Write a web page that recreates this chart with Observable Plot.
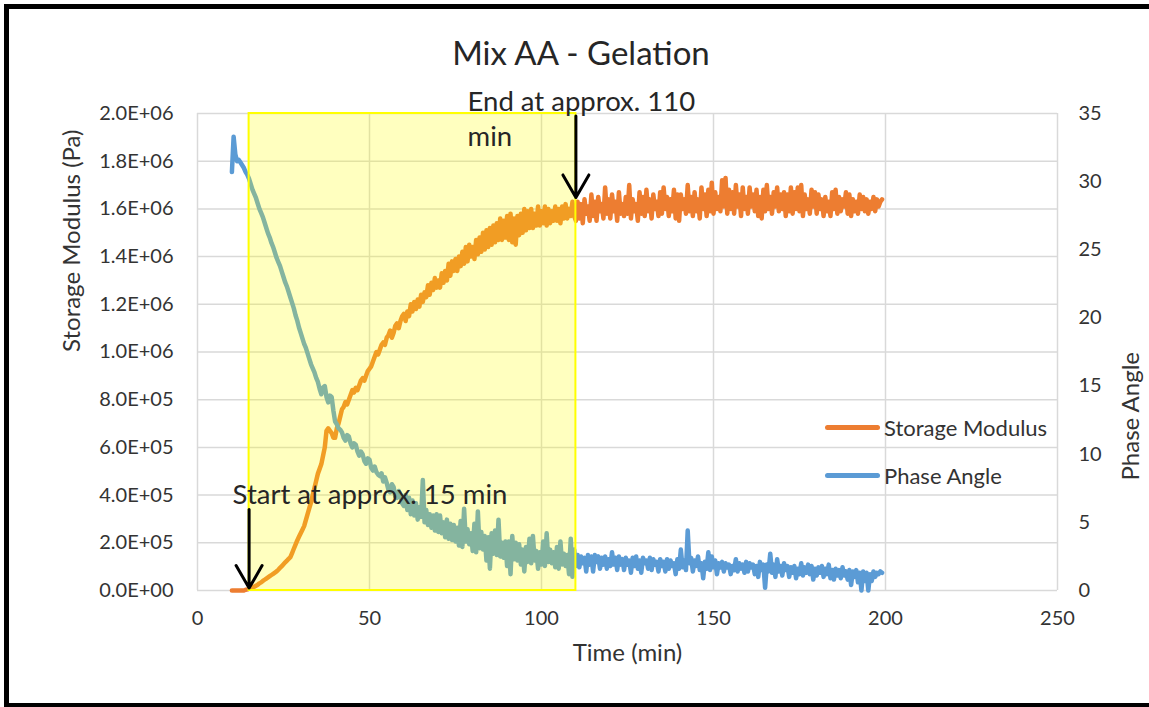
<!DOCTYPE html>
<html>
<head>
<meta charset="utf-8">
<script src="https://cdn.jsdelivr.net/npm/d3@7"></script>
<script src="https://cdn.jsdelivr.net/npm/@observablehq/plot@0.6"></script>
<style>
  body { margin: 0; background: #fff; }
  #wrap { position: relative; width: 1149px; height: 707px; background: #fff; font-family: Lato, "Open Sans", sans-serif; color: #333; overflow: hidden; }
  #frame { position: absolute; left: 4px; top: 4px; right: -10px; bottom: 0; border-left: 5px solid #000; border-top: 5px solid #000; border-bottom: 4px solid #000; box-sizing: border-box; pointer-events: none; }
  #title { position: absolute; left: 0; width: 1162px; top: 30px; text-align: center; font-size: 33px; line-height: 44px; color: #262626; }
  #chart { position: absolute; left: 0; top: 0; }
  .leg { position: absolute; left: 825px; font-size: 22px; color: #333; display: flex; align-items: center; height: 26px; }
  .sw { width: 55px; height: 5px; border-radius: 3px; margin-right: 4px; }
</style>
</head>
<body>
<div id="wrap">
  <div id="chart"></div>
  <div id="title">Mix AA - Gelation</div>
  <div class="leg" style="top:414px"><div class="sw" style="background:#ED7D31"></div><span>Storage Modulus</span></div>
  <div class="leg" style="top:462px"><div class="sw" style="background:#5B9BD5"></div><span>Phase Angle</span></div>
  <div id="frame"></div>
</div>
<script>
// Sampling: time in minutes, one reading every half minute from 10 to 199
const timeStart = 10;
const timeStep = 0.5;

// Storage modulus, in MPa (x1e6 Pa)
const storageModulusMPa = [
  0, 0, 0, 0, 0, 0, 0, 0, 0.003, 0.005,
  0.008, 0.01, 0.013, 0.016, 0.02, 0.024, 0.03, 0.034, 0.04, 0.045,
  0.05, 0.055, 0.06, 0.065, 0.07, 0.075, 0.08, 0.087, 0.095, 0.102,
  0.11, 0.118, 0.125, 0.133, 0.14, 0.157, 0.175, 0.192, 0.21, 0.225,
  0.24, 0.255, 0.27, 0.295, 0.32, 0.345, 0.37, 0.40, 0.43, 0.46,
  0.49, 0.51, 0.53, 0.565, 0.60, 0.67, 0.68, 0.67, 0.66, 0.64,
  0.64, 0.68, 0.70, 0.73, 0.76, 0.77, 0.79, 0.78, 0.80, 0.82,
  0.84, 0.83, 0.85, 0.84, 0.86, 0.88, 0.89, 0.88, 0.90, 0.92,
  0.93, 0.94, 0.96, 0.98, 1.00, 0.99, 1.01, 1.03, 1.04, 1.03,
  1.06, 1.07, 1.09, 1.06, 1.08, 1.11, 1.12, 1.10, 1.13, 1.15,
  1.16, 1.13, 1.17, 1.15, 1.20, 1.17, 1.21, 1.18, 1.22, 1.19,
  1.24, 1.21, 1.25, 1.23, 1.28, 1.24, 1.29, 1.26, 1.31, 1.27,
  1.30, 1.27, 1.33, 1.29, 1.34, 1.30, 1.37, 1.32, 1.38, 1.34,
  1.39, 1.34, 1.40, 1.36, 1.42, 1.37, 1.44, 1.38, 1.45, 1.40,
  1.44, 1.39, 1.47, 1.41, 1.48, 1.42, 1.50, 1.43, 1.51, 1.44,
  1.52, 1.45, 1.53, 1.46, 1.54, 1.47, 1.56, 1.47, 1.55, 1.48,
  1.57, 1.47, 1.58, 1.46, 1.56, 1.45, 1.57, 1.49, 1.58, 1.50,
  1.60, 1.51, 1.59, 1.52, 1.60, 1.52, 1.58, 1.53, 1.61, 1.53,
  1.59, 1.54, 1.61, 1.53, 1.60, 1.54, 1.59, 1.55, 1.61, 1.55,
  1.60, 1.54, 1.61, 1.56, 1.62, 1.56, 1.60, 1.57, 1.63, 1.57,
  1.55, 1.63, 1.56, 1.62, 1.54, 1.64, 1.58, 1.61, 1.55, 1.66,
  1.57, 1.63, 1.55, 1.65, 1.59, 1.62, 1.56, 1.69, 1.58, 1.64,
  1.56, 1.66, 1.59, 1.63, 1.55, 1.67, 1.58, 1.62, 1.57, 1.65,
  1.58, 1.70, 1.56, 1.64, 1.59, 1.62, 1.55, 1.67, 1.58, 1.65,
  1.57, 1.68, 1.59, 1.64, 1.56, 1.66, 1.60, 1.63, 1.57, 1.67,
  1.58, 1.69, 1.60, 1.65, 1.57, 1.64, 1.59, 1.68, 1.56, 1.66,
  1.55, 1.66, 1.60, 1.64, 1.58, 1.70, 1.59, 1.65, 1.57, 1.67,
  1.59, 1.64, 1.56, 1.69, 1.60, 1.66, 1.57, 1.68, 1.59, 1.71,
  1.58, 1.67, 1.60, 1.65, 1.59, 1.72, 1.61, 1.73, 1.58, 1.68,
  1.60, 1.67, 1.58, 1.70, 1.61, 1.66, 1.57, 1.69, 1.60, 1.65,
  1.58, 1.69, 1.61, 1.66, 1.59, 1.68, 1.57, 1.65, 1.56, 1.68,
  1.59, 1.70, 1.60, 1.65, 1.58, 1.67, 1.61, 1.69, 1.59, 1.66,
  1.60, 1.67, 1.57, 1.66, 1.59, 1.69, 1.58, 1.67, 1.60, 1.69,
  1.59, 1.70, 1.57, 1.66, 1.60, 1.64, 1.58, 1.68, 1.61, 1.67,
  1.58, 1.66, 1.60, 1.64, 1.57, 1.65, 1.59, 1.63, 1.57, 1.67,
  1.60, 1.68, 1.58, 1.65, 1.59, 1.64, 1.61, 1.67, 1.58, 1.66,
  1.57, 1.64, 1.59, 1.63, 1.58, 1.66, 1.60, 1.65, 1.59, 1.64,
  1.58, 1.63, 1.60, 1.65, 1.59, 1.64, 1.61, 1.63, 1.64
];

// Phase angle, degrees
const phaseAngle = [
  30.7, 33.3, 32.0, 31.5, 31.6, 31.4, 31.2, 31.0, 30.7, 30.5,
  30.2, 29.8, 29.4, 29.1, 28.8, 28.4, 28.0, 27.7, 27.4, 27.0,
  26.6, 26.2, 25.9, 25.5, 25.2, 24.8, 24.4, 24.1, 23.8, 23.4,
  23.0, 22.6, 22.3, 21.9, 21.5, 21.1, 20.7, 20.2, 19.8, 19.3,
  18.9, 18.5, 18.1, 17.8, 17.4, 17.0, 16.6, 16.3, 16.0, 15.6,
  15.3, 14.8, 14.4, 14.9, 15.0, 14.2, 13.8, 14.3, 14.2, 13.2,
  12.4, 12.2, 11.9, 11.8, 11.6, 11.2, 11.0, 11.4, 11.3, 10.8,
  10.5, 10.8, 10.7, 10.2, 9.9, 10.2, 10.0, 9.5, 9.3, 9.7,
  9.6, 9.0, 8.8, 9.1, 8.7, 8.5, 8.4, 8.6, 8.0, 8.3,
  7.9, 7.4, 7.2, 7.8, 7.6, 6.9, 6.8, 7.3, 7.0, 6.4,
  6.2, 7.0, 5.9, 6.8, 5.6, 6.6, 5.5, 6.4, 5.2, 6.1,
  5.4, 8.1, 5.0, 5.9, 4.8, 5.6, 4.6, 5.5, 4.4, 5.6,
  4.3, 5.5, 4.2, 5.0, 3.9, 5.2, 3.8, 4.9, 3.7, 4.8,
  3.6, 4.6, 3.3, 5.1, 3.2, 6.0, 3.6, 4.5, 3.4, 4.2,
  2.9, 4.9, 2.8, 5.8, 3.1, 4.3, 3.0, 4.0, 2.2, 3.9,
  1.6, 4.2, 2.7, 4.4, 2.6, 5.2, 2.5, 3.5, 2.4, 3.6,
  1.8, 3.6, 1.2, 4.0, 2.3, 3.5, 2.2, 3.4, 1.9, 3.0,
  1.4, 3.2, 2.1, 3.8, 2.0, 4.0, 2.2, 2.9, 1.6, 2.8,
  1.9, 3.6, 1.8, 4.2, 2.1, 3.0, 2.0, 2.8, 1.7, 3.2,
  1.6, 3.6, 1.9, 2.7, 1.8, 2.6, 1.2, 3.8, 1.0, 3.0,
  1.8, 2.6, 1.7, 2.5, 2.0, 2.4, 1.4, 2.6, 1.9, 2.5,
  1.4, 2.6, 2.1, 2.5, 1.6, 2.4, 1.9, 2.5, 1.6, 2.3,
  1.8, 2.8, 1.9, 2.4, 1.5, 2.5, 1.9, 2.3, 1.5, 2.4,
  1.9, 2.2, 1.3, 2.4, 1.8, 2.5, 1.6, 2.2, 1.3, 2.4,
  2.0, 2.2, 1.6, 2.4, 1.5, 2.3, 1.9, 2.1, 1.4, 2.3,
  1.8, 2.1, 1.4, 2.3, 1.6, 2.2, 1.8, 2.0, 1.2, 2.3,
  1.6, 3.0, 1.7, 2.2, 1.5, 4.4, 2.0, 2.4, 1.4, 2.2,
  1.8, 2.5, 1.5, 2.0, 0.9, 2.1, 1.6, 2.8, 1.5, 2.5,
  1.7, 2.2, 1.2, 2.0, 1.7, 2.1, 1.4, 2.0, 1.7, 1.9,
  1.2, 1.8, 1.5, 2.3, 1.4, 2.0, 1.6, 1.9, 1.3, 2.1,
  1.4, 2.0, 1.7, 1.9, 1.2, 1.8, 1.0, 2.1, 1.5, 1.9,
  0.2, 1.9, 1.4, 2.7, 1.3, 1.9, 1.0, 2.3, 1.4, 1.8,
  1.1, 2.0, 1.5, 1.8, 1.0, 1.7, 1.3, 1.8, 0.9, 1.6,
  1.2, 2.0, 1.1, 1.7, 1.3, 1.9, 1.2, 1.8, 0.8, 1.6,
  1.1, 1.7, 1.3, 1.8, 1.0, 1.6, 1.2, 1.9, 0.9, 1.5,
  0.8, 1.6, 1.1, 1.5, 0.9, 1.7, 1.1, 1.4, 0.8, 1.5,
  0.4, 1.4, 1.0, 1.5, 0.6, 1.3, 0.0, 1.4, 0.7, 1.3,
  0.0, 1.2, 0.7, 1.4, 1.0, 1.3, 1.2, 1.4, 1.3
];

// Axis ticks and titles
const timeTicks = [0, 50, 100, 150, 200, 250];
const modulusTicks = [0, 2e5, 4e5, 6e5, 8e5, 1e6, 1.2e6, 1.4e6, 1.6e6, 1.8e6, 2e6];
const phaseTicks = [0, 5, 10, 15, 20, 25, 30, 35];
const modulusMax = 2e6;
const phaseMax = 35;
const xTitle = "Time (min)";
const yTitleLeft = "Storage Modulus (Pa)";
const yTitleRight = "Phase Angle";

// Gelation window
const gelStart = 15;
const gelEnd = 110;

// Annotation arrows (time, modulus from -> to) and notes
const arrows = [
  {t: 15, from: 0.34e6, to: 0.01e6},
  {t: 110, from: 1.99e6, to: 1.648e6}
];
const notes = [
  {t: 10.2, y: 0.40e6, text: "Start at approx. 15 min"},
  {t: 78.5, y: 2.046e6, text: "End at approx. 110"},
  {t: 78.5, y: 1.899e6, text: "min"}
];

const k = modulusMax / phaseMax;
const rows = storageModulusMPa.map((g, i) => ({
  t: timeStart + i * timeStep,
  g: g * 1e6,
  p: phaseAngle[i]
}));

function sci(d) {
  if (d === 0) return "0.0E+00";
  const e = Math.floor(Math.log10(d) + 1e-9);
  const m = d / Math.pow(10, e);
  return m.toFixed(1) + "E+" + String(e).padStart(2, "0");
}

const chart = Plot.plot({
  width: 1149,
  height: 707,
  marginLeft: 197,
  marginRight: 92,
  marginTop: 113,
  marginBottom: 117,
  style: {fontFamily: "Lato, 'Open Sans', sans-serif", fontSize: "20px", color: "#333", background: "transparent", overflow: "visible"},
  x: {domain: [0, 250]},
  y: {domain: [0, modulusMax]},
  marks: [
    Plot.gridY(modulusTicks, {stroke: "#d9d9d9", strokeOpacity: 1, strokeWidth: 1.5}),
    Plot.gridX(timeTicks, {stroke: "#d9d9d9", strokeOpacity: 1, strokeWidth: 1.5}),
    Plot.line(rows, {x: "t", y: "g", stroke: "#ED7D31", strokeWidth: 4.5, strokeLinejoin: "round", strokeLinecap: "round"}),
    Plot.line(rows, {x: "t", y: d => d.p * k, stroke: "#5B9BD5", strokeWidth: 4.5, strokeLinejoin: "round", strokeLinecap: "round"}),
    Plot.rect([{a: gelStart, b: gelEnd}], {x1: "a", x2: "b", y1: () => 0, y2: () => modulusMax, fill: "#ffff00", fillOpacity: 0.25, stroke: "#ffff00", strokeWidth: 2}),
    Plot.arrow(arrows, {x1: "t", x2: "t", y1: "from", y2: "to", stroke: "#000", strokeWidth: 3, headLength: 13, headAngle: 60}),
    Plot.text(notes, {x: "t", y: "y", text: "text", textAnchor: "start", fontSize: 27.5, fill: "#262626"}),
    Plot.axisX({ticks: timeTicks, tickSize: 0, tickPadding: 20, label: null}),
    Plot.axisY({ticks: modulusTicks, tickFormat: sci, tickSize: 0, tickPadding: 24, label: null}),
    Plot.axisY({anchor: "right", ticks: phaseTicks.map(p => p * k), tickFormat: d => String(Math.round(d / k)), tickSize: 0, tickPadding: 21, label: null}),
    Plot.text([xTitle], {frameAnchor: "bottom", dy: 70, text: d => d, fontSize: 24, fill: "#333"}),
    Plot.text([yTitleLeft], {frameAnchor: "left", dx: -125, rotate: -90, text: d => d, fontSize: 24, fill: "#333"}),
    Plot.text([yTitleRight], {frameAnchor: "right", dx: 74, rotate: -90, text: d => d, fontSize: 24, fill: "#333"})
  ]
});
document.getElementById("chart").appendChild(chart);
</script>
</body>
</html>
